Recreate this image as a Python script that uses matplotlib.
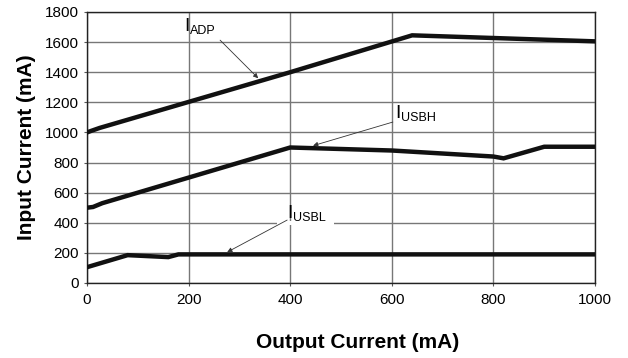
import matplotlib.pyplot as plt

plt.rcParams['font.family'] = ['Liberation Sans', 'DejaVu Sans']

# output current (mA) / input current (mA)
x_adp = [0, 8, 25, 400, 640, 1000]
y_adp = [1000, 1010, 1030, 1400, 1645, 1605]

x_usbh = [0, 12, 30, 400, 600, 800, 820, 900, 1000]
y_usbh = [500, 505, 530, 900, 880, 840, 828, 905, 905]

x_usbl = [0, 80, 160, 180, 1000]
y_usbl = [105, 185, 172, 190, 190]

x_ticks = [0, 200, 400, 600, 800, 1000]
y_ticks = [0, 200, 400, 600, 800, 1000, 1200, 1400, 1600, 1800]

fig = plt.figure(figsize=(6.28, 3.58), dpi=100)
ax = fig.add_axes([0.1385, 0.2095, 0.809, 0.757])

for xs, ys in [(x_adp, y_adp), (x_usbh, y_usbh), (x_usbl, y_usbl)]:
    ax.plot(xs, ys, color='#111111', lw=3.2, solid_joinstyle='miter', zorder=3)

ax.set_xlim(0, 1000)
ax.set_ylim(0, 1800)
ax.set_xticks(x_ticks)
ax.set_yticks(y_ticks)
ax.tick_params(labelsize=11, length=2, color='#555555', pad=5)
ax.tick_params(axis='y', pad=4)
ax.grid(True, color='#777777', lw=1.0)
for s in ax.spines.values():
    s.set_color('#222222')
    s.set_linewidth(1.0)

ax.set_xlabel('Output Current (mA)', fontsize=15, fontweight='bold')
ax.set_ylabel('Input Current (mA)', fontsize=15, fontweight='bold')
ax.xaxis.set_label_coords(0.533, -0.185)
ax.yaxis.set_label_coords(-0.10, 0.5)

arr = dict(arrowstyle='-|>', color='#333333', lw=0.6, mutation_scale=7,
           shrinkA=0, shrinkB=0)


def label(x, y, sub):
    ax.text(x, y, 'I', fontsize=14, ha='left', va='baseline', zorder=5)
    ax.annotate(sub, xy=(x, y), xytext=(4.5, -2), textcoords='offset points',
                fontsize=9, ha='left', va='baseline', zorder=5)


label(191, 1673, 'ADP')
ax.annotate('', xy=(337, 1360), xytext=(262, 1613), arrowprops=arr)

label(606, 1096, 'USBH')
ax.annotate('', xy=(445, 912), xytext=(602, 1069), arrowprops=arr)

# white patch behind the USBL label hides part of the 400 grid line
ax.fill_between([374, 486], 385, 415, color='white', lw=0, zorder=2)
label(394, 432, 'USBL')
ax.annotate('', xy=(276, 205), xytext=(394, 418), arrowprops=arr)

fig.savefig('out.png', dpi=100)
